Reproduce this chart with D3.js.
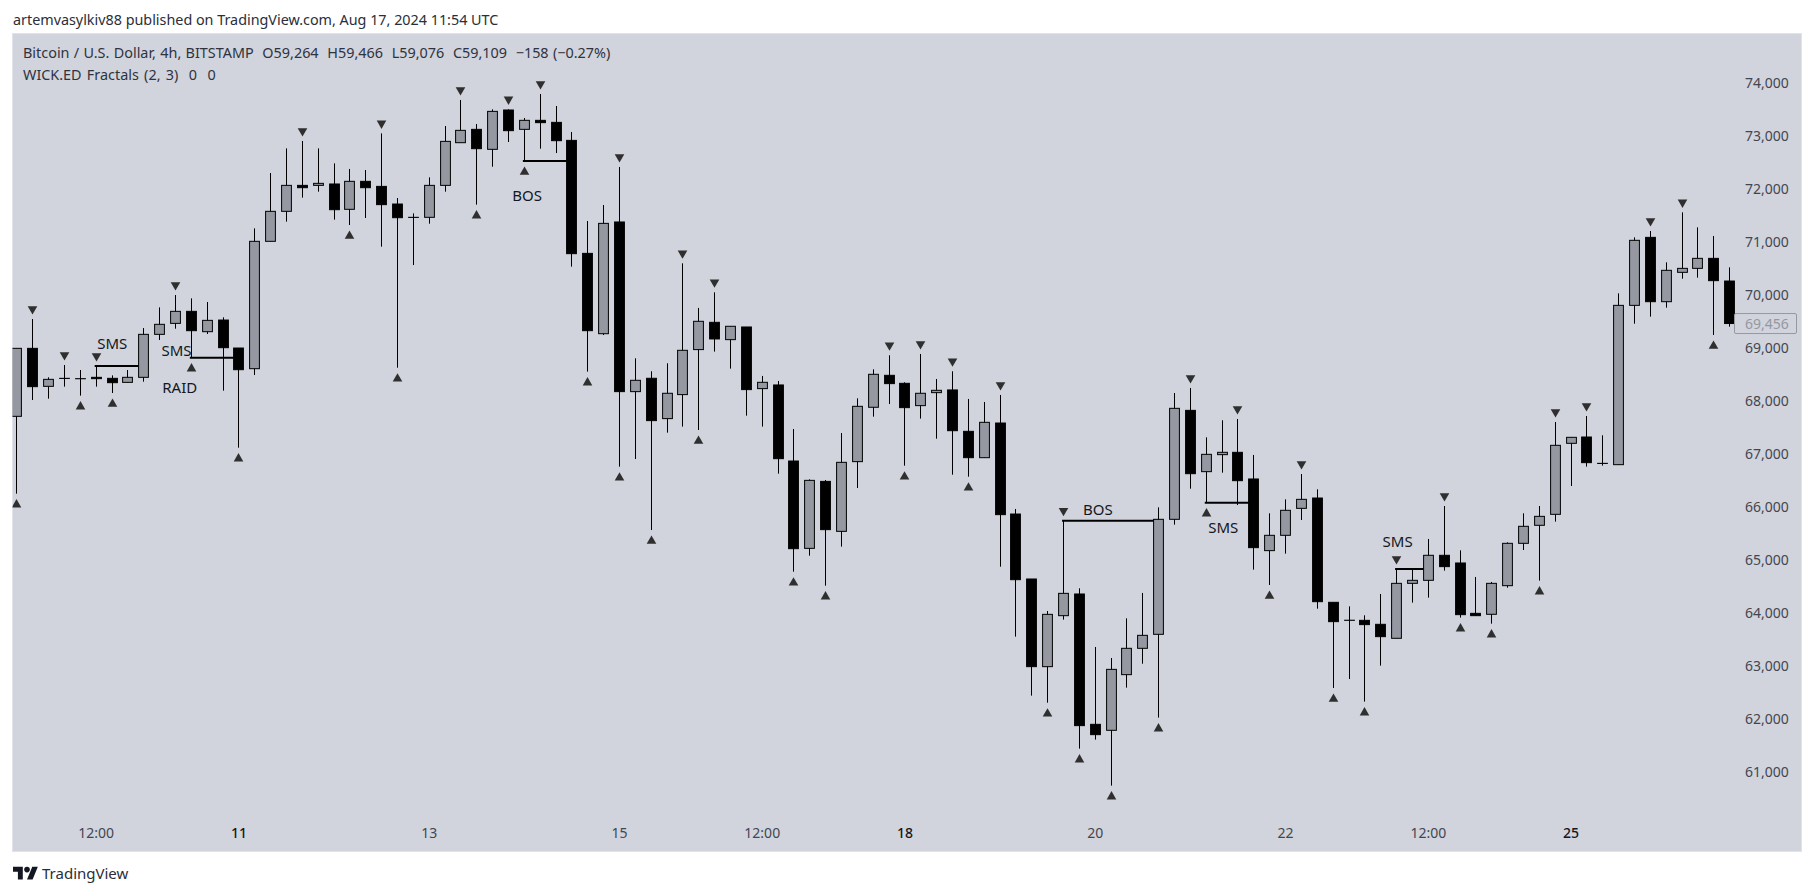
<!DOCTYPE html>
<html>
<head>
<meta charset="utf-8">
<script src="https://cdn.jsdelivr.net/npm/d3@7"></script>
<style>
html, body { margin: 0; padding: 0; background: #ffffff; }
svg { display: block; }
text { font-family: "Noto Sans", "Lato", sans-serif; }
</style>
</head>
<body>
<div id="chart"></div>
<script>
const headerText = "artemvasylkiv88 published on TradingView.com, Aug 17, 2024 11:54 UTC"
const legendTitle = "Bitcoin / U.S. Dollar, 4h, BITSTAMP  O59,264  H59,466  L59,076  C59,109  \u2212158 (\u22120.27%)"
const legendIndicator = "WICK.ED Fractals (2, 3)  0  0"

const opens = [67705,68988,68271,68422,68416,68441,68422,68346,68441,69252,69459,69686,69302,69522,68994,68604,
    71007,71573,72063,72063,72089,71611,72139,72044,71711,71460,71460,72063,72868,73120,72743,73485,
    73120,73290,73252,72912,70780,69264,71372,68171,68423,67662,68115,68964,69479,69152,69391,68228,
    68297,66862,65214,66478,65535,66850,67876,68479,68328,67907,68152,68203,67422,66925,67579,65862,
    64636,62982,63944,64353,61894,61781,62831,63328,63592,65762,67818,66661,66982,67026,66523,65171,
    65460,65969,66164,64196,63858,63856,63781,63517,64554,64611,65083,64938,63988,63970,64510,65309,
    65649,65856,67196,67315,66818,66793,69799,71082,69868,70422,70497,70686,70258]
const highs = [68988,69541,68441,68673,68579,68655,68478,68579,69371,69761,69994,69931,69862,69573,68994,71252,
    72296,72761,72900,72761,72478,72372,72353,73044,71824,71535,72214,73183,73673,73220,73497,73497,
    73334,73787,73560,73070,71390,71692,72410,68800,68555,68706,70592,69750,70045,69404,69391,68467,
    68372,67466,66516,66504,67390,68045,68592,68857,68347,68882,68410,68555,68033,67976,68108,65957,
    64636,64032,65736,64460,63353,63145,63894,64372,65988,68145,68240,67309,67630,67655,66976,65875,
    66139,66617,66328,64196,64120,63951,64353,64825,64806,65391,66013,65177,64674,64580,65328,65875,
    66013,67598,67309,67711,67347,70026,71082,71202,70611,71554,71271,71107,70516]
const lows = [66246,68013,68038,68265,68095,68265,68145,68346,68359,69145,69359,68812,69258,68189,67114,68485,
    71007,71378,71831,71944,71416,71315,71447,70906,68623,70560,71340,71944,72868,71699,72415,72881,
    72522,72755,72673,70529,68548,69239,66755,66900,65560,67397,67511,67447,68926,68605,67718,67511,
    66623,64774,65076,64510,65246,66353,67699,67938,66774,67662,67283,66604,66566,66925,64868,63548,
    62435,62302,63869,61435,61605,60737,62586,63038,62020,65661,66340,66076,66642,66032,64812,64523,
    65114,65749,64076,62580,62749,62322,63001,63517,64190,64284,64793,63907,63944,63793,64472,65183,
    64605,65718,66391,66756,66774,66793,69453,69586,69755,70302,70321,69240,69397]
const closes = [68988,68265,68403,68420,68414,68416,68340,68441,69252,69441,69686,69321,69516,69000,68585,71007,
    71573,72063,72019,72101,71604,72139,72019,71699,71453,71458,72063,72893,73101,72755,73459,73095,
    73290,73246,72906,70774,69321,71346,68171,68385,67624,68140,68951,69498,69165,69404,68209,68347,
    66906,65208,66497,65567,66837,67894,68498,68322,67869,68140,68196,67434,66925,67592,65850,64623,
    62982,63969,64365,61869,61699,62931,63328,63573,65762,67856,66623,66988,67026,66491,65227,65460,
    65932,66139,64208,63831,63856,63775,63548,64554,64611,65083,64869,63963,63944,64554,65309,65630,
    65818,67158,67309,66831,66816,69799,71026,69868,70460,70497,70686,70265,69456]

const fractalHighs = [1,3,5,10,18,23,28,31,33,38,42,44,55,57,59,62,66,74,77,81,87,90,97,99,103,105]
const fractalLows = [0,4,6,11,14,21,24,29,32,36,38,40,43,49,51,56,60,65,67,69,72,75,79,83,85,91,93,96,107]

const lineLabels = ["SMS","SMS","BOS","BOS","SMS","SMS"]
const lineStarts = [5,11,32,66,75,87]
const lineEnds = [8,14,35,72,78,89]
const linePrices = [68654,68812,72522,65736,66076,64825]

const noteLabels = ["SMS","SMS","RAID","BOS","BOS","SMS","SMS"]
const noteBars = [6.04,10.1,10.3,32.2,68.2,76.1,87.1]
const notePrices = [69089,68957,68264,71881,65957,65622,65358]

const priceTicks = [61000,62000,63000,64000,65000,66000,67000,68000,69000,70000,71000,72000,73000,74000]
const timeTickBars = [5,14,26,38,47,56,68,80,89,98]
const timeTickLabels = ["12:00","11","13","15","12:00","18","20","22","12:00","25"]
const boldTimeLabels = ["11","18","25"]
const lastPrice = 69456

const width = 1814
const height = 896
const pane = { left: 12.5, top: 33.5, right: 1801.5, bottom: 851.5 }

const x = d3.scaleLinear().domain([0, 108]).range([16.4, 1729.1])
const y = d3.scaleLinear().domain([61000, 74000]).range([771.7, 82.7])
const bodyWidth = 9.8
const wickX = i => Math.round(x(i)) + 0.5

const svg = d3.select("#chart").append("svg")
    .attr("width", width)
    .attr("height", height)

svg.append("defs").append("clipPath").attr("id", "pane-clip")
    .append("rect")
    .attr("x", pane.left)
    .attr("y", pane.top)
    .attr("width", pane.right - pane.left)
    .attr("height", pane.bottom - pane.top)

svg.append("rect")
    .attr("x", pane.left)
    .attr("y", pane.top)
    .attr("width", pane.right - pane.left)
    .attr("height", pane.bottom - pane.top)
    .attr("fill", "#d1d4dc")
    .attr("stroke", "#e0e3eb")

svg.append("text")
    .attr("x", 13)
    .attr("y", 25)
    .attr("font-size", 14.35)
    .attr("fill", "#2a2e39")
    .text(headerText)

const plot = svg.append("g").attr("clip-path", "url(#pane-clip)")

// drawing lines go under the candles, their ends hide behind the bodies
plot.selectAll(".level")
    .data(lineLabels)
    .enter()
    .append("line")
    .attr("class", "level")
    .attr("x1", (d, i) => x(lineStarts[i]) - 1)
    .attr("x2", (d, i) => x(lineEnds[i]))
    .attr("y1", (d, i) => y(linePrices[i]))
    .attr("y2", (d, i) => y(linePrices[i]))
    .attr("stroke", "#000000")
    .attr("stroke-width", 2)

const bars = plot.selectAll(".bar")
    .data(opens)
    .enter()
    .append("g")
    .attr("class", "bar")

bars.append("line")
    .attr("x1", (d, i) => wickX(i))
    .attr("x2", (d, i) => wickX(i))
    .attr("y1", (d, i) => y(highs[i]))
    .attr("y2", (d, i) => y(lows[i]))
    .attr("stroke", "#000000")
    .attr("stroke-width", 1)

bars.append("rect")
    .attr("x", (d, i) => wickX(i) - bodyWidth / 2)
    .attr("y", (d, i) => y(Math.max(opens[i], closes[i])))
    .attr("width", bodyWidth)
    .attr("height", (d, i) => Math.abs(y(opens[i]) - y(closes[i])))
    .attr("fill", (d, i) => closes[i] >= opens[i] ? "#9598a1" : "#000000")
    .attr("stroke", "#000000")
    .attr("stroke-width", 1)

const triangle = d3.symbol().type(d3.symbolTriangle).size(40)

plot.selectAll(".fractal-high")
    .data(fractalHighs)
    .enter()
    .append("path")
    .attr("class", "fractal-high")
    .attr("d", triangle)
    .attr("fill", "#2f2f2f")
    .attr("transform", d => `translate(${wickX(d)},${y(highs[d]) - 10}) rotate(180)`)

plot.selectAll(".fractal-low")
    .data(fractalLows)
    .enter()
    .append("path")
    .attr("class", "fractal-low")
    .attr("d", triangle)
    .attr("fill", "#2f2f2f")
    .attr("transform", d => `translate(${wickX(d)},${y(lows[d]) + 11})`)

plot.selectAll(".note")
    .data(noteLabels)
    .enter()
    .append("text")
    .attr("class", "note")
    .attr("x", (d, i) => x(noteBars[i]))
    .attr("y", (d, i) => y(notePrices[i]))
    .attr("text-anchor", "middle")
    .attr("dominant-baseline", "central")
    .attr("font-size", 15)
    .attr("fill", "#131722")
    .text(d => d)

// legend
const legend = svg.append("g").attr("fill", "#2f3340").attr("font-size", 14.4)
legend.append("text").attr("x", 23).attr("y", 58).attr("word-spacing", 0.6).style("white-space", "pre").text(legendTitle)
legend.append("text").attr("x", 23).attr("y", 80).attr("word-spacing", 1.5).style("white-space", "pre").text(legendIndicator)

// price axis
const priceAxis = d3.axisRight(y)
    .tickValues(priceTicks)
    .tickFormat(d3.format(","))
    .tickSize(0)
    .tickPadding(0)
const priceGroup = svg.append("g")
    .attr("transform", "translate(1745,0)")
    .call(priceAxis)
priceGroup.select(".domain").remove()
priceGroup.selectAll("text")
    .attr("font-family", null)
    .attr("font-size", 14)
    .attr("fill", "#434651")

// last price label
const lastY = y(lastPrice)
svg.append("rect")
    .attr("x", 1734.5)
    .attr("y", lastY - 10)
    .attr("width", 62)
    .attr("height", 20)
    .attr("rx", 1.5)
    .attr("fill", "#d1d4dc")
    .attr("stroke", "#9598a1")
svg.append("text")
    .attr("x", 1745)
    .attr("y", lastY)
    .attr("dominant-baseline", "central")
    .attr("font-size", 14)
    .attr("fill", "#9598a1")
    .text(d3.format(",")(lastPrice))

// time axis
const timeAxis = d3.axisBottom(x)
    .tickValues(timeTickBars)
    .tickFormat((d, i) => timeTickLabels[i])
    .tickSize(0)
    .tickPadding(0)
const timeGroup = svg.append("g")
    .attr("transform", "translate(0,828)")
    .call(timeAxis)
timeGroup.select(".domain").remove()
timeGroup.selectAll("text")
    .attr("font-family", null)
    .attr("font-size", 14)
    .attr("fill", (d, i) => boldTimeLabels.includes(timeTickLabels[i]) ? "#131722" : "#434651")
    .attr("font-weight", (d, i) => boldTimeLabels.includes(timeTickLabels[i]) ? 500 : 400)

// TradingView mark
const logo = svg.append("g")
    .attr("transform", "translate(13,864) scale(0.7)")
    .attr("fill", "#131722")
logo.append("path").attr("d", "M14 22H7V11H0V4h14v18zM28 22h-8l7.5-18h8L28 22z")
logo.append("circle").attr("cx", 20).attr("cy", 8).attr("r", 4)
svg.append("text")
    .attr("x", 42)
    .attr("y", 879)
    .attr("font-size", 15)
    .attr("fill", "#2a2e39")
    .text("TradingView")
</script>
</body>
</html>
